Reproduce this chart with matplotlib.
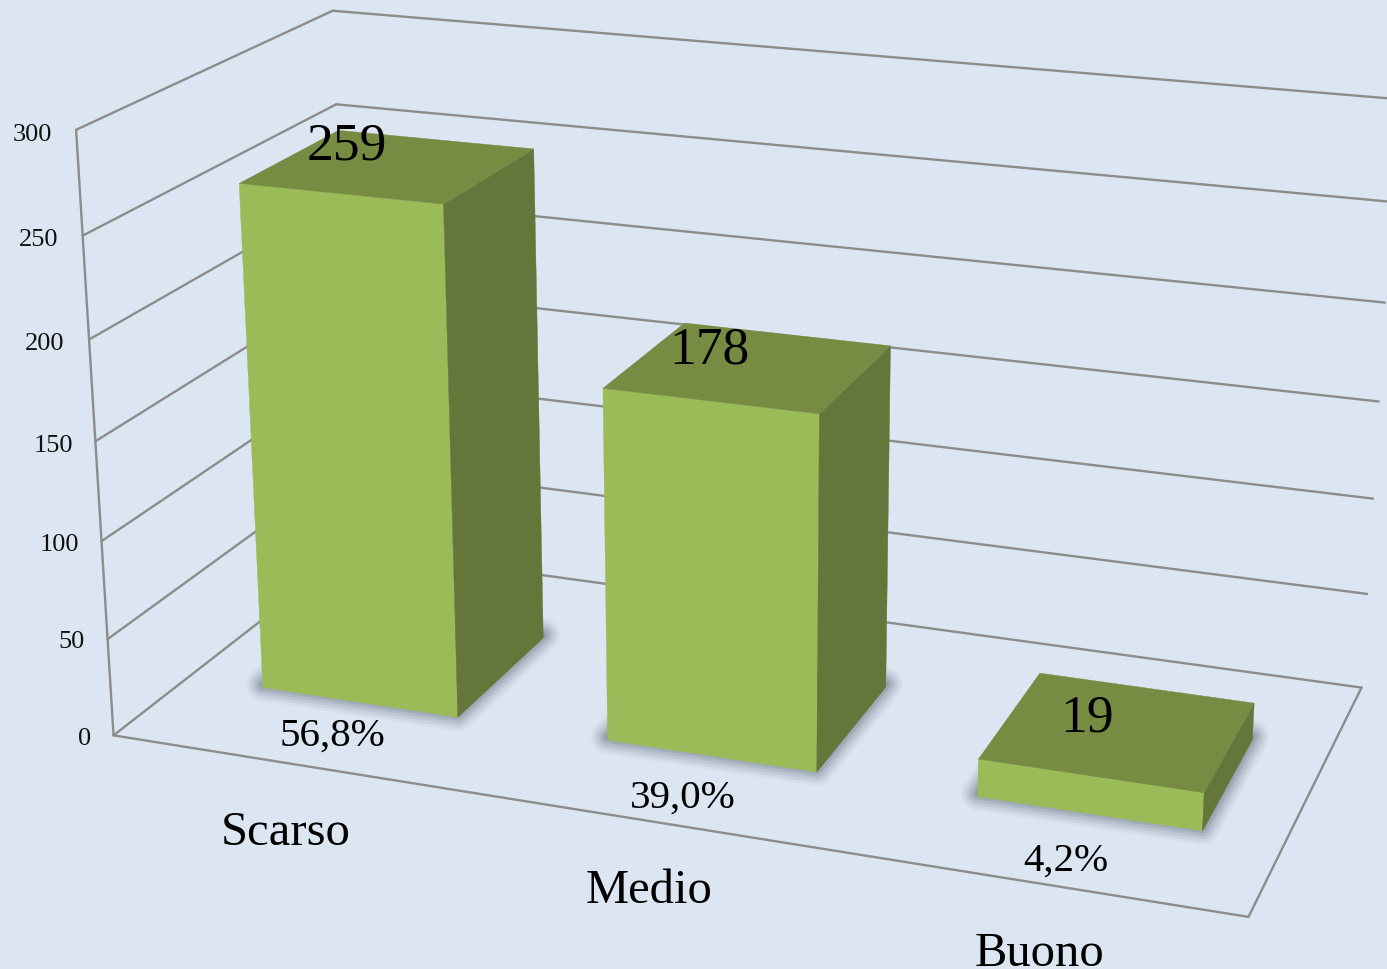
import numpy as np
import matplotlib
matplotlib.use("Agg")
import matplotlib.pyplot as plt

categories = ["Scarso", "Medio", "Buono"]
values = [259, 178, 19]
percents = ["56,8%", "39,0%", "4,2%"]
ticks = [0, 50, 100, 150, 200, 250, 300]

BG, GRID = "#DCE6F2", "#8C8C8C"
FRONT, TOP, SIDE = "#9BBB59", "#768C42", "#647639"
plt.rcParams["font.family"] = ["Liberation Serif", "DejaVu Serif"]

# calibration of the chart's perspective: (category, value, depth) -> pixel
anchors = [
    ((0, 0, 0), (115, 737)), ((0, 300, 0), (75, 130)), ((3, 0, 0), (1248, 918)),
    ((3, 0, 1), (1361, 688)), ((0, 300, 1), (333, 13)), ((0, 250, 1), (337, 106)),
    ((0, 100, 1), (346, 373)), ((0, 0, 1), (352, 552)), ((3, 100, 1), (1373, 500)),
    ((3, 50, 1), (1368, 595)),
]
A, b = [], []
for (x, v, d), (px, py) in anchors:
    A.append([x, v, d, 1, 0, 0, 0, 0, -px * x, -px * v, -px * d]); b.append(px)
    A.append([0, 0, 0, 0, x, v, d, 1, -py * x, -py * v, -py * d]); b.append(py)
sol = np.linalg.lstsq(np.array(A, float), np.array(b, float), rcond=None)[0]
P = np.append(sol, 1.0).reshape(3, 4)


def proj(x, v, d):
    h = P @ np.array([x, v, d, 1.0])
    return h[0] / h[2], h[1] / h[2]


fig = plt.figure(figsize=(13.87, 9.70), dpi=100, facecolor=BG)
ax = fig.add_axes([0, 0, 1, 1])
ax.set_xlim(0, 1387)
ax.set_ylim(970, 0)
ax.axis("off")


def line(p, q, lw=1.7):
    ax.plot(*zip(proj(*p), proj(*q)), color=GRID, lw=lw, solid_capstyle="round", zorder=1)


def face(pts, color, z=4):
    ax.fill(*zip(*[proj(*p) for p in pts]), color=color, lw=0.3, zorder=z)


for t in ticks:
    line((0, t, 0), (0, t, 1))
    line((0, t, 1), (3, t, 1))
line((0, 0, 0), (0, 300, 0))
line((0, 0, 0), (3, 0, 0))
line((3, 0, 0), (3, 0, 1))

X_LEFT, X_RIGHT, D_FRONT, D_BACK = 0.222, 0.796, 0.29, 0.695
for i, val in enumerate(values):
    x0, x1 = i + X_LEFT, i + X_RIGHT
    d0, d1 = D_FRONT, D_BACK
    foot = np.array([proj(x0, 0, d0), proj(x1, 0, d0), proj(x1, 0, d1), proj(x0, 0, d1)])
    foot = foot + np.array([0, -3])
    for w, a in [(24, .06), (20, .08), (16, .10), (12, .13), (8, .16), (4, .2)]:
        ax.fill(foot[:, 0], foot[:, 1], fc="#56606E", ec="#56606E", alpha=a, lw=w,
                joinstyle="round", zorder=2)
    face([(x0, 0, d0), (x1, 0, d0), (x1, val, d0), (x0, val, d0)], FRONT)
    face([(x1, 0, d0), (x1, 0, d1), (x1, val, d1), (x1, val, d0)], SIDE)
    face([(x0, val, d0), (x1, val, d0), (x1, val, d1), (x0, val, d1)], TOP)

tick_pos = [(85, 739), (72, 642), (59, 545), (53, 446), (45, 344), (39, 240), (32, 135)]
for t, (px, py) in zip(ticks, tick_pos):
    ax.text(px, py, str(t), fontsize=19, ha="center", va="center", color="#111111", zorder=6)

val_pos = [(347, 146), (709, 351), (1087, 719)]
for v, (px, py) in zip(values, val_pos):
    ax.text(px, py, str(v), fontsize=38.5, ha="center", va="center", color="black", zorder=6)

pct_pos = [(332, 736), (683, 798), (1066, 861)]
for s, (px, py) in zip(percents, pct_pos):
    ax.text(px, py, s, fontsize=29.5, ha="center", va="center", color="black", zorder=6)

cat_pos = [(286, 833), (649, 891), (1039, 954)]
for s, (px, py) in zip(categories, cat_pos):
    ax.text(px, py, s, fontsize=35, ha="center", va="center", color="black", zorder=6)

fig.savefig("out.png", dpi=100, facecolor=BG)
